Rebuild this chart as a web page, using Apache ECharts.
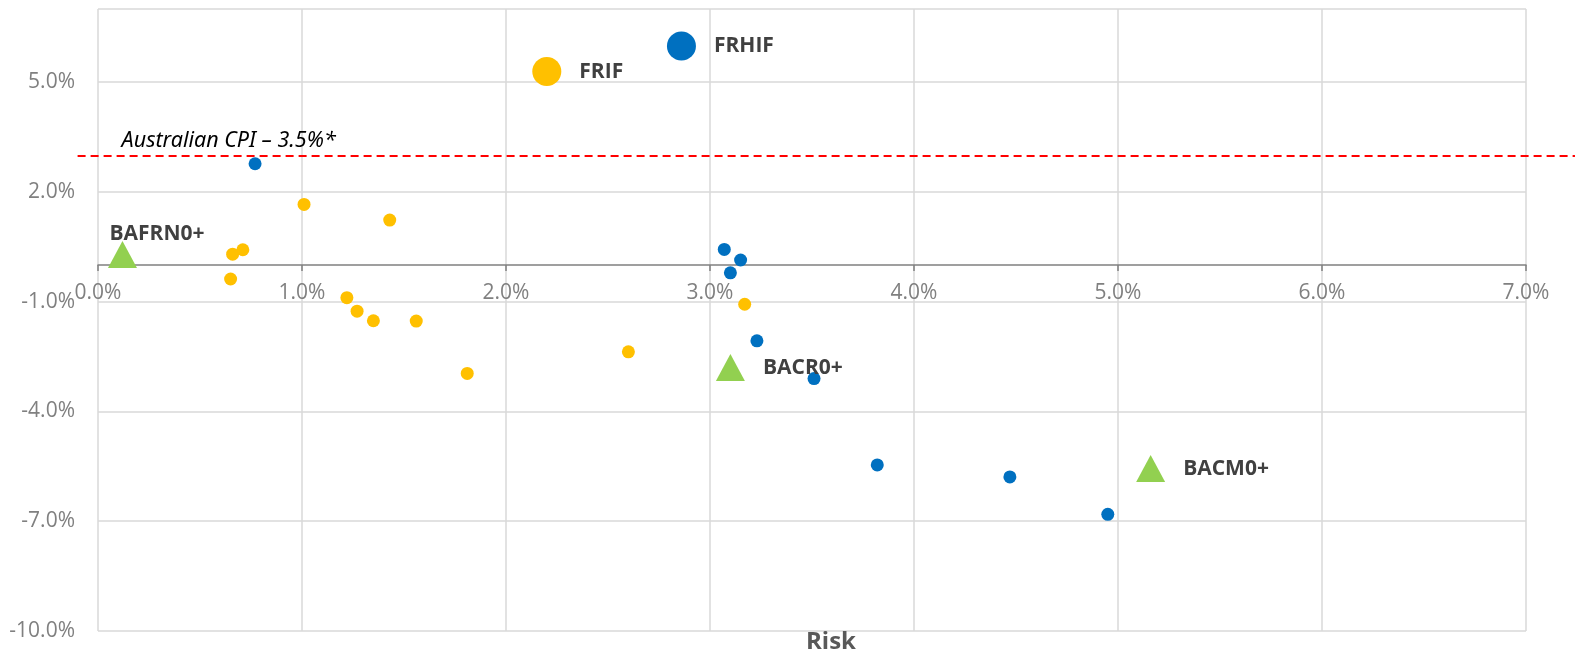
<!DOCTYPE html>
<html>
<head>
<meta charset="utf-8">
<title>Risk / Return</title>
<script src="https://cdn.jsdelivr.net/npm/echarts@6.0.0/dist/echarts.min.js"></script>
<style>
  html, body { margin: 0; padding: 0; background: #fff; }
  #chart { width: 1575px; height: 653px; }
</style>
</head>
<body>
<div id="chart"></div>
<script>
// risk (x, %) / return (y, %)
const blueRisk = [0.77, 3.07, 3.15, 3.10, 3.23, 3.51, 3.82, 4.47, 4.95];
const blueReturn = [2.77, 0.43, 0.14, -0.21, -2.07, -3.10, -5.46, -5.79, -6.81];

const yellowRisk = [1.01, 1.43, 0.66, 0.71, 0.65, 1.22, 1.27, 1.35, 1.56, 1.81, 2.60, 3.17];
const yellowReturn = [1.66, 1.23, 0.30, 0.42, -0.38, -0.89, -1.26, -1.52, -1.53, -2.96, -2.37, -1.07];

const fundNames = ["FRIF", "FRHIF"];
const fundRisk = [2.20, 2.86];
const fundReturn = [5.29, 5.99];

const benchNames = ["BAFRN0+", "BACR0+", "BACM0+"];
const benchRisk = [0.12, 3.10, 5.16];
const benchReturn = [0.29, -2.80, -5.56];

const cpiLabel = "Australian CPI – 3.5%*";
const cpiValue = 3.0;
// the dashed line runs a bit past the plot on both sides
const cpiRiskExtent = [-0.1, 7.24];

const xTicks = [0, 1, 2, 3, 4, 5, 6, 7];
const yTicks = [-10, -7, -4, -1, 2, 5, 7];
const yLabels = [-10, -7, -4, -1, 2, 5];

const colors = {
  blue: "#0070C0",
  yellow: "#FFC000",
  green: "#92D050",
};

// 图表位置
const W = 1575, H = 653;
const gridPos = { left: 98, right: 49, top: 9, bottom: 22 };

function pct(v) {
  return v.toFixed(1) + "%";
}

function pairs(xs, ys) {
  return xs.map((x, i) => [x, ys[i]]);
}

const yMin = yTicks[0];
const yMax = yTicks[yTicks.length - 1];
const xMin = xTicks[0];
const xMax = xTicks[xTicks.length - 1];

// x axis sits on return = 0 (labels go with it)
const plotH = H - gridPos.top - gridPos.bottom;
const xAxisOffset = -plotH * (0 - yMin) / (yMax - yMin);

// second grid only for the CPI line, same scale as the main one
const plotW = W - gridPos.left - gridPos.right;
const pxPerRisk = plotW / (xMax - xMin);
const lineGrid = {
  left: gridPos.left + (cpiRiskExtent[0] - xMin) * pxPerRisk,
  right: gridPos.right - (cpiRiskExtent[1] - xMax) * pxPerRisk,
  top: gridPos.top,
  bottom: gridPos.bottom,
};

const boldLabel = {
  show: true,
  color: "#404040",
  fontFamily: "Open Sans",
  fontWeight: "bold",
  fontSize: 21,
};

let myChart = echarts.init(document.getElementById("chart"));

let seriesArr = [
  {
    // CPI 虚线 (drawn by markLine, the series itself is invisible)
    type: "line",
    xAxisIndex: 1,
    yAxisIndex: 1,
    symbol: "none",
    silent: true,
    lineStyle: { width: 0 },
    data: cpiRiskExtent.map((x) => [x, cpiValue]),
    markLine: {
      silent: true,
      symbol: "none",
      lineStyle: { color: "#FF0000", type: [8, 5], width: 2 },
      label: {
        show: true,
        position: "insideStartTop",
        formatter: cpiLabel,
        color: "#000",
        fontFamily: "Noto Sans",
        fontStyle: "italic",
        fontSize: 21.5,
        distance: 3,
        padding: [0, 0, 0, 41],
      },
      data: [{ yAxis: cpiValue }],
    },
  },
  {
    // 蓝色小点
    type: "scatter",
    symbolSize: 13,
    itemStyle: { color: colors.blue, opacity: 1 },
    data: pairs(blueRisk, blueReturn),
  },
  {
    // 黄色小点
    type: "scatter",
    symbolSize: 13,
    itemStyle: { color: colors.yellow, opacity: 1 },
    data: pairs(yellowRisk, yellowReturn),
  },
  {
    // 两个基金
    type: "scatter",
    symbolSize: 29,
    data: fundNames.map((n, i) => ({
      name: n,
      value: [fundRisk[i], fundReturn[i]],
      itemStyle: { color: i == 0 ? colors.yellow : colors.blue, opacity: 1 },
    })),
    label: Object.assign({}, boldLabel, {
      position: "right",
      distance: 18,
      formatter: (p) => p.name,
    }),
  },
  {
    // 基准 三角形
    type: "scatter",
    symbol: "triangle",
    symbolSize: [29, 27],
    itemStyle: { color: colors.green, opacity: 1 },
    data: benchNames.map((n, i) => ({
      name: n,
      value: [benchRisk[i], benchReturn[i]],
      label:
        i == 0
          ? { position: "top", align: "left", distance: 0, offset: [-13, 4] }
          : {},
    })),
    label: Object.assign({}, boldLabel, {
      position: "right",
      distance: 18,
      formatter: (p) => p.name,
    }),
  },
];

myChart.setOption({
  animation: false,
  title: {
    text: "Risk",
    left: 806,
    top: 630,
    padding: 0,
    textStyle: {
      color: "#595959",
      fontFamily: "Open Sans",
      fontWeight: "bold",
      fontSize: 24,
    },
  },
  grid: [
    Object.assign({ outerBoundsMode: "none" }, gridPos),
    Object.assign({ outerBoundsMode: "none" }, lineGrid),
  ],
  xAxis: [
    {
      type: "value",
      gridIndex: 0,
      min: xMin,
      max: xMax,
      interval: 1,
      offset: xAxisOffset,
      axisLine: {
        onZero: false,
        lineStyle: { color: "#808080", width: 1.5 },
      },
      axisTick: {
        show: true,
        length: 6,
        lineStyle: { color: "#808080", width: 1.5 },
      },
      axisLabel: {
        color: "#808080",
        fontFamily: "Open Sans",
        fontSize: 21,
        margin: 17,
        formatter: pct,
      },
      splitLine: {
        show: true,
        lineStyle: { color: "#D9D9D9", width: 1.5 },
      },
    },
    {
      type: "value",
      gridIndex: 1,
      show: false,
      min: cpiRiskExtent[0],
      max: cpiRiskExtent[1],
    },
  ],
  yAxis: [
    {
      type: "value",
      gridIndex: 0,
      min: yMin,
      max: yMax,
      axisLine: { show: false },
      axisTick: { show: false, customValues: yTicks },
      axisLabel: {
        customValues: yLabels,
        color: "#808080",
        fontFamily: "Open Sans",
        fontSize: 21,
        margin: 23,
        formatter: pct,
      },
      splitLine: {
        show: true,
        lineStyle: { color: "#D9D9D9", width: 1.5 },
      },
    },
    {
      type: "value",
      gridIndex: 1,
      show: false,
      min: yMin,
      max: yMax,
    },
  ],
  series: seriesArr,
});
</script>
</body>
</html>
